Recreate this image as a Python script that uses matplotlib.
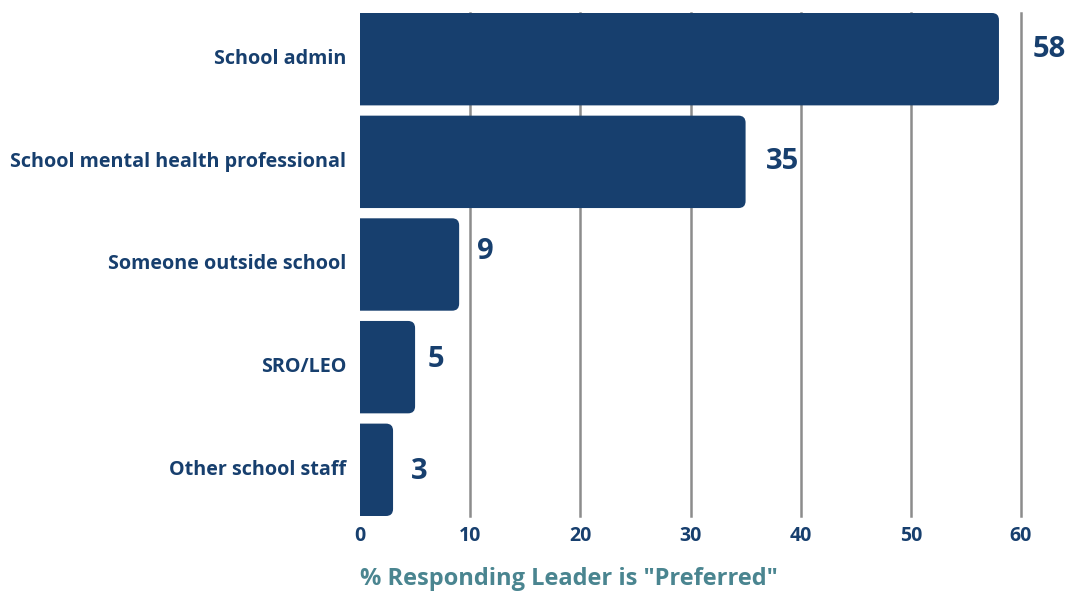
import matplotlib
matplotlib.use("Agg")
import matplotlib.pyplot as plt
import matplotlib.transforms as mtransforms
from matplotlib.path import Path
from matplotlib.patches import PathPatch

plt.rcParams["font.family"] = ["Open Sans", "DejaVu Sans"]
plt.rcParams["font.weight"] = "bold"

NAVY = "#173f6e"
TEAL = "#4a8590"
GRID = "#8c8c8c"

categories = [
    "School admin",
    "School mental health professional",
    "Someone outside school",
    "SRO/LEO",
    "Other school staff",
]
preferred_pct = [58, 35, 9, 5, 3]
x_ticks = [0, 10, 20, 30, 40, 50, 60]

fig = plt.figure(figsize=(10.69, 5.91), dpi=100)
ax = fig.add_axes([360 / 1069, 1 - 516 / 591, (1021 - 360) / 1069, (516 - 13) / 591])

rows = list(range(len(categories)))
bar_height = 0.9
bars = ax.barh(rows, preferred_pct, height=bar_height, color=NAVY, zorder=2)

ax.set_xlim(0, 60)
ax.set_ylim(len(categories) - 1 + bar_height / 2, -bar_height / 2)
ax.set_xticks(x_ticks)
ax.set_yticks(rows)
ax.set_yticklabels(categories)
ax.tick_params(axis="y", length=0, pad=10, labelsize=14.2, labelcolor=NAVY)
ax.tick_params(axis="x", length=0, pad=7, labelsize=14, labelcolor=NAVY)
# nudge category labels up a touch so they sit on the bar centres
lift = mtransforms.ScaledTranslation(0, 2 / 72, fig.dpi_scale_trans)
for label in ax.get_yticklabels():
    label.set_transform(label.get_transform() + lift)
for spine in ax.spines.values():
    spine.set_visible(False)

# vertical guides behind the bars (none at zero)
for t in x_ticks[1:]:
    ax.axvline(t, color=GRID, lw=1.8, zorder=1, clip_on=False)

# swap the plain rectangles for ones with rounded right-hand corners
fig.canvas.draw()
bbox = ax.get_window_extent()
px_per_x = bbox.width / (ax.get_xlim()[1] - ax.get_xlim()[0])
px_per_y = bbox.height / abs(ax.get_ylim()[0] - ax.get_ylim()[1])
radius_px = 7
for bar in bars:
    x0, y0 = bar.get_x(), bar.get_y()
    x1, y1 = x0 + bar.get_width(), y0 + bar.get_height()
    rx = min(radius_px / px_per_x, bar.get_width() / 2)
    ry = radius_px / px_per_y
    verts = [
        (x0, y0), (x1 - rx, y0), (x1, y0), (x1, y0 + ry),
        (x1, y1 - ry), (x1, y1), (x1 - rx, y1),
        (x0, y1), (x0, y0),
    ]
    codes = [
        Path.MOVETO, Path.LINETO, Path.CURVE3, Path.CURVE3,
        Path.LINETO, Path.CURVE3, Path.CURVE3,
        Path.LINETO, Path.CLOSEPOLY,
    ]
    ax.add_patch(PathPatch(Path(verts, codes), facecolor=NAVY, edgecolor="none", zorder=2))
    bar.set_visible(False)

# value labels; the largest is pushed past the 60 guide
label_offsets = [(34, 10), (20, 0), (18, 13), (13, 8), (18, -2)]
for row, value, (dx, dy) in zip(rows, preferred_pct, label_offsets):
    ax.annotate(
        f"{value}",
        (value, row),
        xytext=(dx * 0.72, dy * 0.72),
        textcoords="offset points",
        ha="left",
        va="center",
        fontsize=21,
        fontweight="bold",
        color=NAVY,
        annotation_clip=False,
    )

ax.set_xlabel('% Responding Leader is "Preferred"', loc="left", fontsize=17,
              color=TEAL, fontweight="bold", labelpad=15)

fig.savefig("out.png", dpi=100)
